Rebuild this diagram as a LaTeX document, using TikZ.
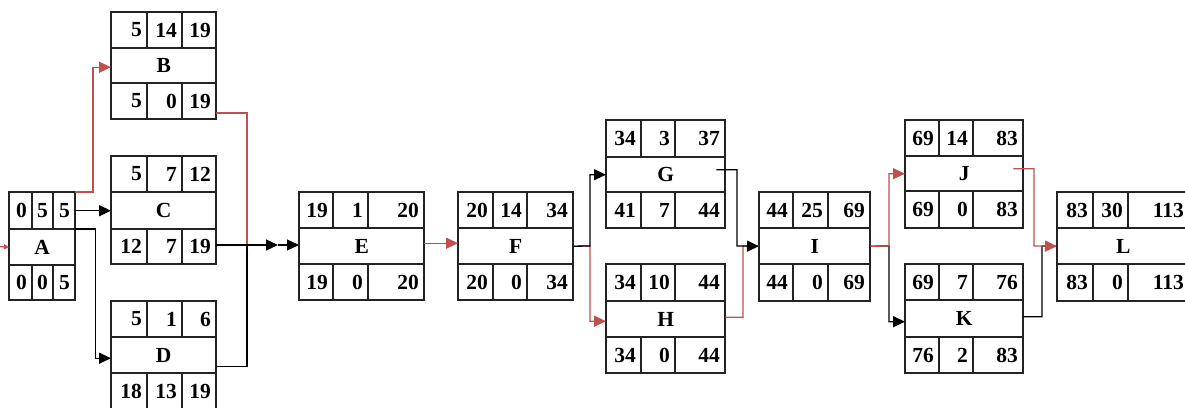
\documentclass[tikz,border=0pt]{standalone}
\usepackage{fontspec}
\setmainfont{Liberation Serif}
\usetikzlibrary{arrows.meta}
\definecolor{critred}{RGB}{192,80,77}
\definecolor{boxgray}{RGB}{35,35,35}
\tikzset{
  boxline/.style={draw=boxgray, line width=1.4pt},
  num/.style={anchor=east, inner sep=0pt, font=\fontsize{21.5}{21.5}\selectfont\bfseries},
  mid/.style={inner sep=0pt, font=\fontsize{21.5}{21.5}\selectfont\bfseries},
  conn/.style={line width=1.3pt, draw=black},
  crit/.style={line width=1.3pt, draw=critred},
  tip/.style={-{Triangle[length=12pt,width=11pt]}},
}
\def\abox(#1)[#2,#3,#4,#5][#6,#7,#8,#9]{%
  \def\bn{#1}\def\xa{#2}\def\xb{#3}\def\xc{#4}\def\xd{#5}%
  \def\ya{#6}\def\yb{#7}\def\yc{#8}\def\yd{#9}%
  \aboxtext}
\def\aboxtext#1#2#3#4#5#6#7{%
  \pgfmathsetmacro\bw{\xd-\xa}%
  \pgfmathsetmacro\bh{\yc-\yb}%
  \pgfmathsetmacro\yt{(\ya+\yb)/2}%
  \pgfmathsetmacro\yu{(\yc+\yd)/2}%
  \draw[boxline] (\xa,\ya) rectangle (\xd,\yd);
  \draw[boxline] (\xa,\yb) -- (\xd,\yb) (\xa,\yc) -- (\xd,\yc)
    (\xb,\ya) -- (\xb,\yb) (\xc,\ya) -- (\xc,\yb)
    (\xb,\yc) -- (\xb,\yd) (\xc,\yc) -- (\xc,\yd);
  \node[mid, minimum width=\bw pt, minimum height=\bh pt, anchor=north west] (\bn) at (\xa,\yb) {#4};
  \node[num] (\bn-es) at (\xb-5,\yt) {#1};
  \node[num] (\bn-du) at (\xc-5,\yt) {#2};
  \node[num] (\bn-ef) at (\xd-5,\yt) {#3};
  \node[num] (\bn-ls) at (\xb-5,\yu) {#5};
  \node[num] (\bn-sl) at (\xc-5,\yu) {#6};
  \node[num] (\bn-lf) at (\xd-5,\yu) {#7};
  \coordinate (\bn-ne) at (\xd,\ya);
  \coordinate (\bn-se) at (\xd,\yd);
}
\begin{document}
\begin{tikzpicture}[x=1pt,y=-1pt]
\useasboundingbox (0,0) rectangle (1185,407);
\fill[white] (0,0) rectangle (1185,407);
\abox(A)[9,32,53,75][192,229,265,300]{0}{5}{5}{A}{0}{0}{5}
\abox(B)[111,147,182,216][12,48,83,119]{5}{14}{19}{B}{5}{0}{19}
\abox(C)[111,147,182,216][156,192,229,264]{5}{7}{12}{C}{12}{7}{19}
\abox(D)[111,147,182,216][301,337,373,409]{5}{1}{6}{D}{18}{13}{19}
\abox(E)[299,333,368,424][192,228,264,300]{19}{1}{20}{E}{19}{0}{20}
\abox(F)[458,493,527,573][192,228,264,300]{20}{14}{34}{F}{20}{0}{34}
\abox(G)[606,641,675,725][120,157,192,228]{34}{3}{37}{G}{41}{7}{44}
\abox(H)[606,641,675,725][264,301,337,373]{34}{10}{44}{H}{34}{0}{44}
\abox(I)[759,793,828,870][192,228,264,301]{44}{25}{69}{I}{44}{0}{69}
\abox(J)[905,939,973,1023][120,156,191,228]{69}{14}{83}{J}{69}{0}{83}
\abox(K)[905,939,973,1023][264,300,337,373]{69}{7}{76}{K}{76}{2}{83}
\abox(L)[1057,1093,1128,1189][192,228,264,301]{83}{30}{113}{L}{83}{0}{113}

\coordinate (A-in) at (-1,246.5);
\coordinate (j1) at (247,245);
\coordinate (m1) at (278,245);
\coordinate (j2) at (590,246);
\coordinate (j3) at (737,246);
\coordinate (j4) at (743,246);
\coordinate (j5) at (889,246);
\coordinate (j6) at (1034,246);
\coordinate (j7) at (1042,246);

\draw[crit, -{Triangle[length=5pt,width=5pt]}] (A-in) -- (A.west);
\draw[crit, tip] (A-ne) -- ++(18,0) |- ([yshift=-1.5pt]B.west);
\draw[conn, tip] (A-ne |- C.west) -- (C.west);
\draw[conn, tip] (A.north east) -- ++(20,0) |- ([yshift=-3pt]D.west);

\draw[crit] ([yshift=6pt]B-se) -| (j1);
\draw[conn] ([yshift=-11pt]D.east) -| (j1);
\draw[conn, tip] (C.east |- j1) -- (m1);
\draw[conn, tip] (m1) -- (E.west |- m1);

\draw[crit, tip] ([yshift=3pt]E.east) -- ([yshift=3pt]F.west);

\draw[crit, tip] (F.east) -- (j2) |- ([yshift=-2pt]H.west);
\draw[conn, tip] (F.east) -- (j2) |- (G.west);

\draw[crit] ([yshift=2pt]H.east) -| (j4) -- (I.west);
\draw[conn, tip] ([xshift=-9pt,yshift=5pt]G.east) -| (j3) -- (I.west);

\draw[conn, tip] (I.east) -- (j5) |- ([yshift=-3pt]K.west);
\draw[crit, tip] (I.east) -- (j5) |- (J.west);

\draw[conn] ([yshift=2pt]K.east) -| (j7) -- (L.west);
\draw[crit, tip] ([xshift=-10pt,yshift=5pt]J.east) -| (j6) -- (L.west);
\end{tikzpicture}
\end{document}
